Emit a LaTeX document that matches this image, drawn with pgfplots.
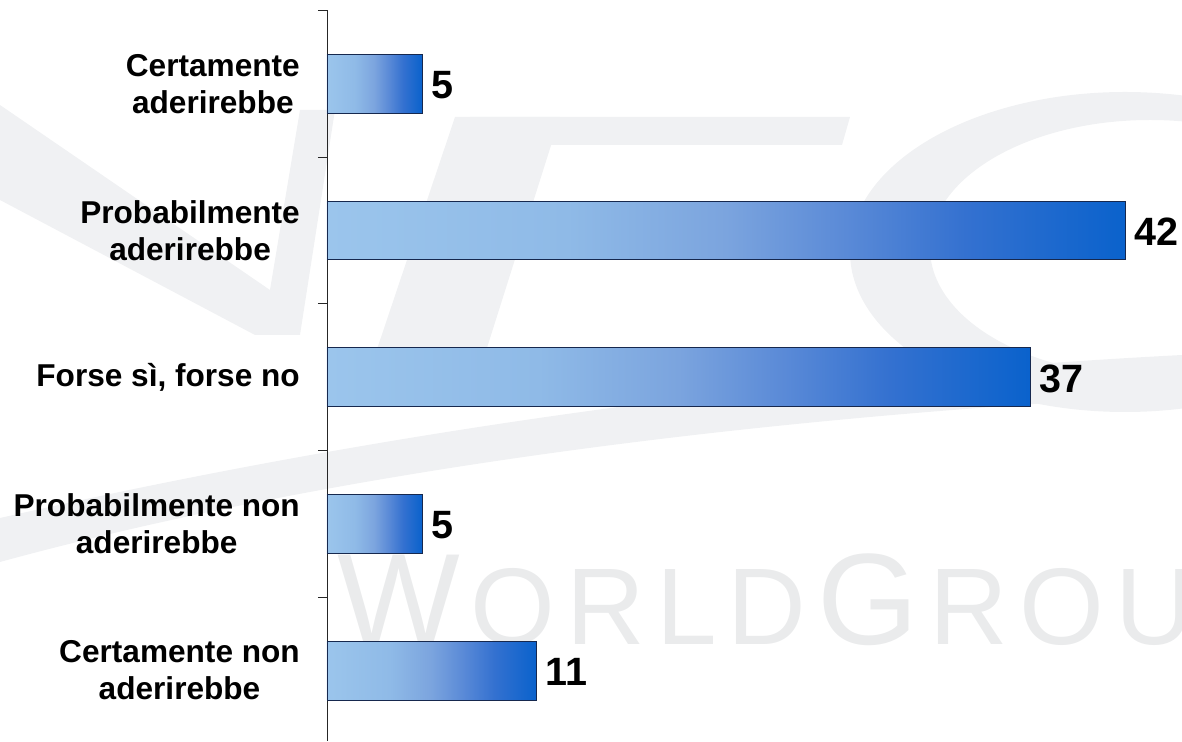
\documentclass[border=0pt]{standalone}
\usepackage{pgfplots}
\pgfplotsset{compat=1.18}
\usepackage{fontspec}
\setmainfont{Liberation Sans}
\definecolor{barline}{RGB}{22,40,78}
\definecolor{wm}{RGB}{234,235,236}
\definecolor{sw}{RGB}{240,241,243}
\pgfdeclarehorizontalshading{bargrad}{100bp}{%
  color(0bp)=(rgb,255:red,155;green,197;blue,236);
  color(25bp)=(rgb,255:red,155;green,197;blue,236);
  color(40bp)=(rgb,255:red,143;green,186;blue,231);
  color(50bp)=(rgb,255:red,123;green,164;blue,222);
  color(57.5bp)=(rgb,255:red,90;green,138;blue,215);
  color(65bp)=(rgb,255:red,52;green,113;blue,208);
  color(75bp)=(rgb,255:red,10;green,98;blue,204);
  color(100bp)=(rgb,255:red,10;green,98;blue,204)}
\begin{document}
\begin{tikzpicture}[x=1pt,y=1pt]
% faint background logo shapes (image px: x-327, 741-y)
\begin{scope}[shift={(-327,741)}, yscale=-1]
  % V
  \fill[sw] (0,105) -- (0,200) -- (255,335) -- (300,335) -- (335,110) -- (300,110) -- (270,290) -- cycle;
  % F stem and bar
  \fill[sw] (455,117) -- (560,117) -- (480,370) -- (370,370) -- cycle;
  \fill[sw] (470,117) -- (850,117) -- (842,145) -- (462,145) -- cycle;
  % C
  \fill[sw, even odd rule] (1125,252) ellipse [x radius=275, y radius=160]
                           (1150,248) ellipse [x radius=220, y radius=128];
  % swoosh
  \fill[sw] (0,518) .. controls (300,450) and (700,380) .. (1182,355)
         -- (1182,395) .. controls (700,420) and (300,480) .. (0,562) -- cycle;
\end{scope}
% watermark text
\node[anchor=base west, inner sep=0pt, text=wm] at (10,96)
  {\fontsize{130}{130}\selectfont W\kern11pt\fontsize{109}{109}\selectfont O\kern11pt R\kern11pt L\kern11pt D\kern11pt\fontsize{130}{130}\selectfont G\kern11pt\fontsize{109}{109}\selectfont R\kern11pt O\kern11pt U};
\begin{axis}[
  scale only axis,
  width=855pt, height=730.5pt,
  xmin=0, xmax=45,
  ymin=0.52, ymax=5.5,
  axis x line=none,
  axis y line*=left,
  y axis line style={black!85, line width=0.9pt},
  xtick=\empty,
  ytick={1,2,3,4,5},
  yticklabels={{Certamente non\\aderirebbe},{Probabilmente non\\aderirebbe},{Forse sì, forse no},{Probabilmente\\aderirebbe},{Certamente\\aderirebbe}},
  minor ytick={1.5,2.5,3.5,4.5,5.5},
  major tick length=0pt,
  minor tick length=9pt,
  tick align=outside,
  tick style={black!85, line width=0.9pt},
  yticklabel style={font=\bfseries\fontsize{31.6}{37}\selectfont, align=center, inner sep=0pt, xshift=-27pt},
  xbar,
  bar width=0.4,
  bar shift=0pt,
  /pgf/number format/assume math mode=true,
  nodes near coords,
  every node near coord/.append style={font=\bfseries\fontsize{39.5}{39.5}\selectfont, anchor=west, inner sep=0pt, xshift=9pt, yshift=-1.5pt},
  clip=false,
]
\addplot[draw=barline, line width=0.8pt, shade, shading=bargrad] coordinates {(11,1)};
\addplot[draw=barline, line width=0.8pt, shade, shading=bargrad] coordinates {(5,2)};
\addplot[draw=barline, line width=0.8pt, shade, shading=bargrad] coordinates {(37,3)};
\addplot[draw=barline, line width=0.8pt, shade, shading=bargrad] coordinates {(42,4)};
\addplot[draw=barline, line width=0.8pt, shade, shading=bargrad] coordinates {(5,5)};
\end{axis}
\pgfresetboundingbox
\path[use as bounding box] (-327,0) rectangle (855,741);
\end{tikzpicture}
\end{document}
